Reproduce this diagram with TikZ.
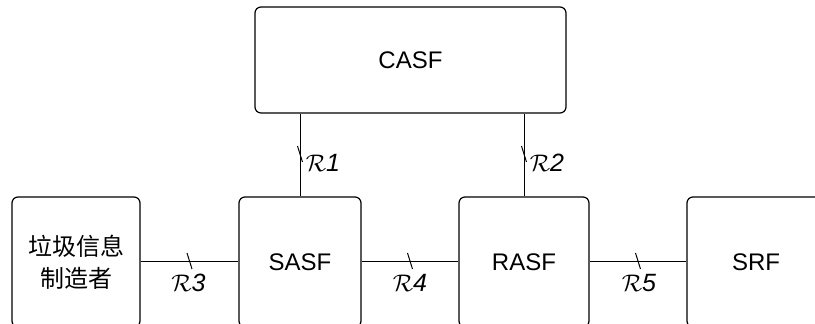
\documentclass[tikz,border=0pt]{standalone}
\usepackage{amsmath}
\usepackage{fontspec}
\setmainfont{Liberation Sans}
\newfontfamily\cjk{Noto Sans CJK SC}
\usetikzlibrary{positioning}
\newcommand{\refpt}[1]{$\mathcal{R}\mathit{#1}$}
\newcommand{\rtick}[1]{\draw[line width=0.5pt] ([shift={(-2.5,-9)}]#1) -- ([shift={(2.5,7)}]#1);}
\tikzset{
  func box/.style={
    draw, rectangle, rounded corners=3pt,
    line width=0.6pt, align=center,
    minimum height=65pt,
    font=\fontsize{12}{16}\selectfont
  },
  ref line/.style={
    line width=0.5pt
  },
  ref label/.style={
    font=\fontsize{12.5}{14}\selectfont, inner sep=0pt
  },
}
\begin{document}
\begin{tikzpicture}[x=0.5pt, y=-0.5pt]

  \useasboundingbox (0,0) rectangle (815,324);

  % Control function on top
  \node[func box, minimum width=155.5pt, minimum height=53pt] (casf) at (410.5,60) {CASF};

  % Row of functions
  \node[func box, minimum width=64pt] (spam) at (76,262) {{\cjk 垃圾信息}\\{\cjk 制造者}};
  \node[func box, minimum width=61pt] (sasf) at (300,262) {SASF};
  \node[func box, minimum width=65pt] (rasf) at (524,262) {RASF};
  \node[func box, minimum width=69pt] (srf) at (756,262) {SRF};

  % Reference points
  \draw[ref line] (sasf.north) -- (sasf.north |- casf.south) coordinate[midway] (m1);
  \draw[ref line] (rasf.north) -- (rasf.north |- casf.south) coordinate[midway] (m2);
  \draw[ref line] (spam.east) -- (sasf.west) coordinate[midway] (m3);
  \draw[ref line] (sasf.east) -- (rasf.west) coordinate[midway] (m4);
  \draw[ref line] (rasf.east) -- (srf.west) coordinate[midway] (m5);

  \rtick{m1}
  \rtick{m2}
  \rtick{m3}
  \rtick{m4}
  \rtick{m5}

  \node[ref label] (r1) at ([shift={(23,8)}]m1) {\refpt{1}};
  \node[ref label] (r2) at ([shift={(23,8)}]m2) {\refpt{2}};
  \node[ref label] (r3) at ([shift={(-1,21)}]m3) {\refpt{3}};
  \node[ref label] (r4) at ([shift={(0,21)}]m4) {\refpt{4}};
  \node[ref label] (r5) at ([shift={(1,21)}]m5) {\refpt{5}};

\end{tikzpicture}
\end{document}
